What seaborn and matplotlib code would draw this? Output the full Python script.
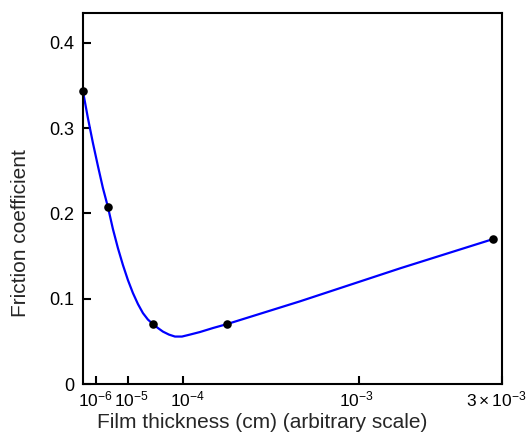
import matplotlib
matplotlib.use("Agg")
import matplotlib.pyplot as plt
import matplotlib.transforms as mtransforms
import seaborn as sns
import pandas as pd

# Arbitrary-scale x positions (0 = left edge, 1 = right edge)
point_x = [0.0, 0.060, 0.167, 0.344, 0.979]
point_y = [0.343, 0.207, 0.070, 0.070, 0.170]

curve_x = [0.000, 0.0119, 0.0239, 0.0358, 0.0477, 0.0597, 0.0716, 0.0835, 0.0955,
           0.1074, 0.1193, 0.1313, 0.1432, 0.1551, 0.1671, 0.1790, 0.1909, 0.2053,
           0.2196, 0.2363, 0.2554, 0.2792, 0.3103, 0.3437, 0.518, 0.757, 0.979]
curve_y = [0.3435, 0.3118, 0.2825, 0.2556, 0.2298, 0.2075, 0.1817, 0.1594, 0.1395,
           0.1219, 0.1067, 0.0938, 0.0832, 0.0756, 0.0703, 0.0657, 0.0615, 0.0580,
           0.0557, 0.0557, 0.0580, 0.0610, 0.0657, 0.0703, 0.0970, 0.1357, 0.1700]

xtick_pos = [0.031, 0.107, 0.239, 0.659, 1.0]
xtick_labels = [r"$10^{-6}$", r"$10^{-5}$", r"$10^{-4}$", r"$10^{-3}$", r"$3\times10^{-3}$"]
ytick_pos = [0, 0.1, 0.2, 0.3, 0.4]
ytick_labels = ["0", "0.1", "0.2", "0.3", "0.4"]

sns.set_style("white")
plt.rcParams["font.family"] = ["Liberation Sans", "DejaVu Sans"]
plt.rcParams["mathtext.fontset"] = "custom"
plt.rcParams["mathtext.rm"] = "Liberation Sans"
plt.rcParams["mathtext.it"] = "Liberation Sans:italic"
plt.rcParams["mathtext.default"] = "regular"

fig = plt.figure(figsize=(5.28, 4.42), dpi=100)
ax = fig.add_axes([0.157, 0.131, 0.794, 0.840])

curve = pd.DataFrame({"x": curve_x, "y": curve_y})
pts = pd.DataFrame({"x": point_x, "y": point_y})

sns.lineplot(data=curve, x="x", y="y", ax=ax, color="#0000ff", linewidth=1.6,
             sort=False, estimator=None)
sns.scatterplot(data=pts, x="x", y="y", ax=ax, color="black", s=38,
                edgecolor="black", linewidth=0, zorder=5, clip_on=False)

ax.set_xlim(0, 1)
ax.set_ylim(0, 0.435)
ax.set_xticks(xtick_pos)
ax.set_xticklabels(xtick_labels, fontsize=12.5)
ax.set_yticks(ytick_pos)
ax.set_yticklabels(ytick_labels, fontsize=13)
ax.tick_params(axis="both", direction="in", length=6, width=1.5, color="black",
               labelcolor="black", top=False, right=False, left=True, bottom=True)
ax.tick_params(axis="x", pad=4)
ax.tick_params(axis="y", pad=6)
for s in ax.spines.values():
    s.set_linewidth(1.5)
    s.set_color("black")

# small horizontal offsets of x tick labels (pixels) as in the reference
offsets = [0, 4, 4, -3, -6]
for lab, dx in zip(ax.get_xticklabels(), offsets):
    lab.set_transform(lab.get_transform() +
                      mtransforms.ScaledTranslation(dx / 100, 0, fig.dpi_scale_trans))

ax.set_xlabel("Film thickness (cm) (arbitrary scale)", fontsize=15)
ax.set_ylabel("Friction coefficient", fontsize=15)
ax.xaxis.set_label_coords(0.427, -0.079)
ax.yaxis.set_label_coords(-0.125, 0.407)

fig.savefig("out.png", dpi=100)
